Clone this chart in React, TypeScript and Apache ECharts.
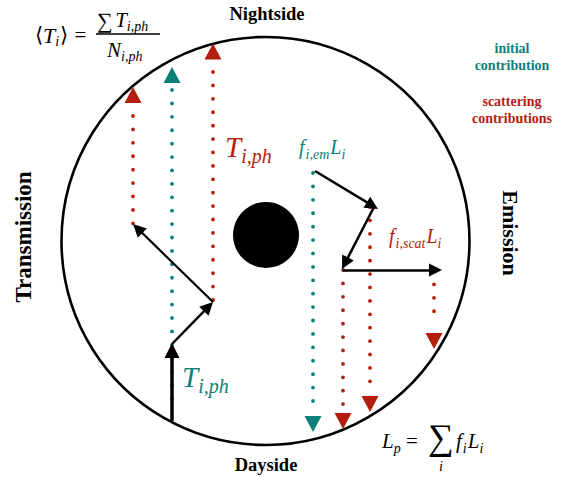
import React, { useEffect, useRef } from "react";
import * as echarts from "echarts";

const TEAL = "#0b8078";
const RED = "#b51d0e";
const SERIF = "Liberation Serif";

// Outer atmosphere circle and planet: [x, y, diameter]
const outerCircle = [265.5, 241, 408];
const planet = [266, 235, 66];

// Dotted photon paths [x, yStart, yEnd]
const tealDotted = [
  [172, 90, 400],
  [313, 173, 403],
];
const redDotted = [
  [133, 116, 224],
  [213, 72, 302],
  [370, 207, 382],
  [343, 270, 408],
  [434, 271, 324],
];

// Arrow heads at path ends [x, y]
const tealUp = [[172, 75]];
const redUp = [
  [133, 95],
  [213, 51.5],
];
const tealDown = [[313, 424]];
const redDown = [
  [343, 421],
  [370, 404],
  [434, 341],
];

// Black scattering arrows [x1, y1, x2, y2, width]
const blackArrows = [
  [172, 421, 172, 343, 3.5],
  [172, 344, 213, 302, 2.5],
  [213, 302, 133, 224, 2.2],
  [315, 171, 378, 209, 2.5],
  [374, 207, 342, 269, 2.5],
  [343, 270, 442, 270, 2.5],
];

type Piece = [string, number, number, number, boolean, string, boolean?];
// [text, x, y, size, italic, color, bold]
const texts: Piece[] = [
  ["Nightside", 267, 14, 18.5, false, "#000", true],
  ["Dayside", 266, 465, 18.5, false, "#000", true],
  ["initial", 512, 48, 14, false, TEAL, true],
  ["contribution", 512, 65, 14, false, TEAL, true],
  ["scattering", 512, 101, 14, false, RED, true],
  ["contributions", 512, 118, 14, false, RED, true],
];

// Math runs: each piece [text, size, italic, dy, extraGap]; run [startX, centerY, color, pieces]
type Run = [number, number, string, [string, number, boolean, number, number?][]];
const mathRuns: Run[] = [
  [35, 35, "#000", [["⟨", 21, false, 0], ["T", 22, true, 0], ["i", 14, true, 6, 1], ["⟩", 21, false, 0, 1], [" = ", 21, false, 0]]],
  [97, 20, "#000", [["∑", 22, false, 0], [" ", 10, false, 0], ["T", 21, true, 0], ["i,ph", 14, true, 6]]],
  [107, 50, "#000", [["N", 21, true, 0], ["i,ph", 14, true, 6]]],
  [225, 147, RED, [["T", 29, true, 0], ["i,ph", 20, true, 9]]],
  [182, 377, TEAL, [["T", 29, true, 0], ["i,ph", 20, true, 9]]],
  [299, 147, TEAL, [["f", 20, true, 0, 1], ["i,em", 14, true, 7, 1], ["L", 20, true, 0], ["i", 14, true, 7]]],
  [389, 236, RED, [["f", 20, true, 0, 1], ["i,scat", 14, true, 7, 1], ["L", 20, true, 0], ["i", 14, true, 7]]],
  [382, 441, "#000", [["L", 21, true, 0], ["p", 14, true, 7], [" = ", 21, false, 0]]],
  [456, 441, "#000", [["f", 21, true, 0, 1], ["i", 14, true, 7, 1], ["L", 21, true, 0], ["i", 14, true, 7]]],
];

function measure(ctx: CanvasRenderingContext2D, text: string, size: number, italic: boolean) {
  ctx.font = `${italic ? "italic " : ""}${size}px "${SERIF}"`;
  return ctx.measureText(text).width;
}

function App() {
  const ref = useRef<HTMLDivElement>(null);
  useEffect(() => {
    document.body.style.margin = "0";
    const chart = echarts.init(ref.current!, null, { renderer: "svg" });
    const ctx = document.createElement("canvas").getContext("2d")!;

    const dotted = (arr: number[][], color: string) =>
      arr.map((d) => ({
        type: "line",
        silent: true,
        symbol: "none",
        data: [
          [d[0], d[1]],
          [d[0], d[2]],
        ],
        lineStyle: { color, width: 3.8, type: [0.01, 13.4], cap: "round" },
        z: 3,
      }));

    const tri = (data: number[][], color: string, rot: number) => ({
      type: "scatter",
      silent: true,
      symbol: "triangle",
      symbolSize: [17, 16],
      symbolRotate: rot,
      data,
      itemStyle: { color, opacity: 1 },
      z: 5,
    });

    const textEls: any[] = texts.map((p) => ({
      type: "text",
      x: p[1],
      y: p[2],
      silent: true,
      style: {
        text: p[0],
        fontSize: p[3],
        fontFamily: SERIF,
        fontWeight: "bold",
        fill: p[5],
        align: "center",
        verticalAlign: "middle",
      },
    }));

    mathRuns.forEach(([x0, y0, color, pieces]) => {
      let x = x0;
      pieces.forEach(([txt, size, italic, dy, extra]) => {
        textEls.push({
          type: "text",
          x,
          y: y0 + dy,
          silent: true,
          style: {
            text: txt,
            fontSize: size,
            fontFamily: SERIF,
            fontStyle: italic ? "italic" : "normal",
            fill: color,
            align: "left",
            verticalAlign: "middle",
          },
        });
        x += measure(ctx, txt, size, italic) + (extra || 0);
      });
    });

    // big sum with subscript i for L_p
    textEls.push({
      type: "text", x: 428, y: 437, silent: true,
      style: { text: "∑", fontSize: 36, fontFamily: SERIF, fill: "#000", align: "left", verticalAlign: "middle" },
    });
    textEls.push({
      type: "text", x: 439, y: 466, silent: true,
      style: { text: "i", fontSize: 14, fontStyle: "italic", fontFamily: SERIF, fill: "#000", align: "left", verticalAlign: "middle" },
    });

    // shift arrow end so the triangle tip lands on the target point
    const arrowSeries = blackArrows.map((a) => {
      const big = a[4] > 3;
      const len = big ? 15 : 13;
      const dx = a[2] - a[0];
      const dy = a[3] - a[1];
      const L = Math.hypot(dx, dy);
      const ex = a[2] - (dx / L) * (len / 2);
      const ey = a[3] - (dy / L) * (len / 2);
      return {
        type: "lines",
        coordinateSystem: "cartesian2d",
        silent: true,
        symbol: ["none", "triangle"],
        symbolSize: big ? [13, len] : [11, len],
        data: [{ coords: [[a[0], a[1]], [ex, ey]] }],
        lineStyle: { color: "#000", width: a[4], opacity: 1 },
        z: 4,
      };
    });

    chart.setOption({
      animation: false,
      grid: { left: 0, right: 0, top: 0, bottom: 0 },
      xAxis: { type: "value", min: 0, max: 570, show: false },
      yAxis: { type: "value", min: 0, max: 477, inverse: true, show: false },
      series: [
        {
          type: "scatter",
          silent: true,
          symbol: "circle",
          symbolSize: outerCircle[2],
          data: [[outerCircle[0], outerCircle[1]]],
          itemStyle: { color: "rgba(0,0,0,0)", borderColor: "#000", borderWidth: 2.6, opacity: 1 },
          z: 1,
        },
        {
          type: "scatter",
          silent: true,
          symbol: "circle",
          symbolSize: planet[2],
          data: [[planet[0], planet[1]]],
          itemStyle: { color: "#000", opacity: 1 },
          z: 1,
        },
        ...dotted(tealDotted, TEAL),
        ...dotted(redDotted, RED),
        ...arrowSeries,
        tri(tealUp, TEAL, 0),
        tri(redUp, RED, 0),
        tri(tealDown, TEAL, 180),
        tri(redDown, RED, 180),
      ],
      graphic: [
        ...textEls,
        {
          type: "line",
          silent: true,
          shape: { x1: 96, y1: 34, x2: 160, y2: 34 },
          style: { stroke: "#000", lineWidth: 1.3 },
        },
        {
          type: "text",
          x: 23,
          y: 237,
          rotation: Math.PI / 2,
          silent: true,
          style: {
            text: "Transmission",
            fontSize: 23,
            fontWeight: "bold",
            fontFamily: SERIF,
            fill: "#000",
            align: "center",
            verticalAlign: "middle",
          },
        },
        {
          type: "text",
          x: 510,
          y: 233,
          rotation: -Math.PI / 2,
          silent: true,
          style: {
            text: "Emission",
            fontSize: 22,
            fontWeight: "bold",
            fontFamily: SERIF,
            fill: "#000",
            align: "center",
            verticalAlign: "middle",
          },
        },
      ],
    });
    return () => chart.dispose();
  }, []);
  return <div ref={ref} style={{ width: 570, height: 477 }} />;
}

export default App;
